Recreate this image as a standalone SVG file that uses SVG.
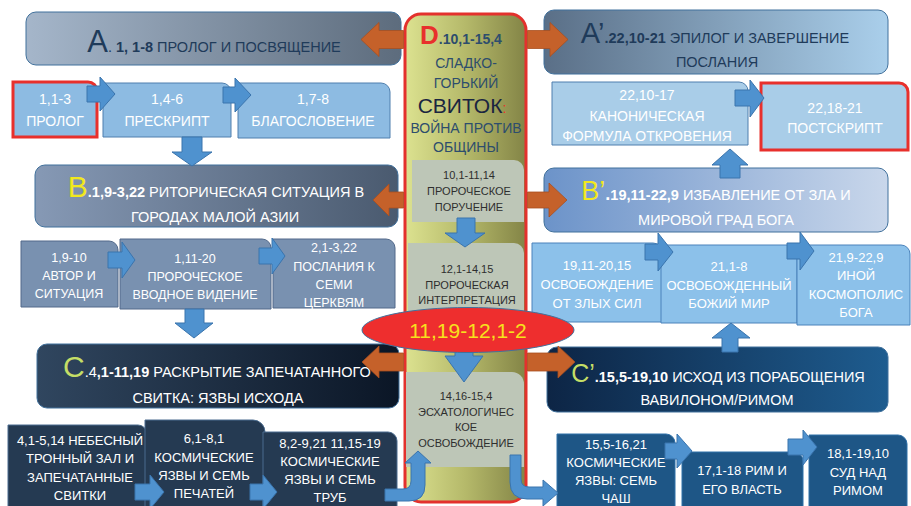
<svg xmlns="http://www.w3.org/2000/svg" width="911" height="506" viewBox="0 0 911 506">
<defs>
<linearGradient id="gA" x1="0" x2="1" y1="0" y2="0"><stop offset="0" stop-color="#a5b6ca"/><stop offset="1" stop-color="#5d6c7d"/></linearGradient>
<linearGradient id="gAp" x1="0" x2="1" y1="0" y2="0"><stop offset="0" stop-color="#5a6f87"/><stop offset="1" stop-color="#aacfeb"/></linearGradient>
<linearGradient id="gB" x1="0" x2="1" y1="0" y2="0"><stop offset="0" stop-color="#8699b5"/><stop offset="1" stop-color="#4a5a6f"/></linearGradient>
<linearGradient id="gBp" x1="0" x2="1" y1="0" y2="0"><stop offset="0" stop-color="#6c93c9"/><stop offset="1" stop-color="#c9d7eb"/></linearGradient>
<linearGradient id="gC" x1="0" x2="1" y1="0" y2="0"><stop offset="0" stop-color="#30465f"/><stop offset="1" stop-color="#0b1626"/></linearGradient>
<linearGradient id="gCp" x1="0" x2="1" y1="0" y2="0"><stop offset="0" stop-color="#0d2545"/><stop offset="1" stop-color="#1e5c8f"/></linearGradient>
<linearGradient id="gD" x1="0" x2="1" y1="0" y2="0"><stop offset="0" stop-color="#dce290"/><stop offset="0.5" stop-color="#b5b96a"/><stop offset="1" stop-color="#838446"/></linearGradient>
</defs>
<style>
text{font-family:"Liberation Sans",Arial,sans-serif;text-anchor:middle}
.hdr{stroke:#41719c;stroke-width:1}
.hd{font-size:14.5px}
.dk{fill:#1f3b5a}
.w{fill:#fff}
.b{font-weight:bold}
.rA{fill:#8dbbe2;stroke:#4f7fae;stroke-width:1}
.rAp{fill:#a9cde8;stroke:#4f7fae;stroke-width:1}
.rB{fill:#7991b0;stroke:#52698a;stroke-width:1}
.rBp{fill:#8cc1ea;stroke:#4a82bb;stroke-width:1}
.rC{fill:#253a52;stroke:#4a6b8e;stroke-width:1}
.rCp{fill:#1e5686;stroke:#2f70a8;stroke-width:1}
.red{stroke:#e8302c;stroke-width:3}
.di{fill:#bdc6b7}
.s14{font-size:14px}
.s13{font-size:13px}
.s125{font-size:12.5px}
.s11{font-size:11px;fill:#2e2e2e}
.dt{font-size:14px;fill:#2d4d6d}
.ba{fill:#4f92cf;stroke:#3a74ad;stroke-width:1}
.oa{fill:#c5612a;stroke:#a84f1f;stroke-width:0.8}
</style>

<!-- headers -->
<g id="A">
<rect class="hdr" x="26" y="12" width="375" height="53" rx="10" fill="url(#gA)"/>
<text x="214" y="52" class="hd dk"><tspan font-size="31">A</tspan>. <tspan class="b">1, 1-8</tspan> ПРОЛОГ И ПОСВЯЩЕНИЕ</text>
</g>
<g id="Ap">
<rect class="hdr" x="544" y="10" width="344" height="64" rx="10" fill="url(#gAp)"/>
<text x="715" y="43" class="hd dk"><tspan font-size="29">A’</tspan><tspan class="b">.22,10-21</tspan> ЭПИЛОГ И ЗАВЕРШЕНИЕ</text>
<text x="717" y="67" class="hd dk">ПОСЛАНИЯ</text>
</g>
<g id="B">
<rect class="hdr" x="35" y="165" width="363" height="62" rx="10" fill="url(#gB)"/>
<text x="216" y="197" class="hd w"><tspan font-size="30" fill="#f2e81e">B</tspan><tspan class="b">.1,9-3,22</tspan> РИТОРИЧЕСКАЯ СИТУАЦИЯ В</text>
<text x="215" y="222" class="hd w">ГОРОДАХ МАЛОЙ АЗИИ</text>
</g>
<g id="Bp">
<rect class="hdr" x="544" y="168" width="344" height="64" rx="10" fill="url(#gBp)"/>
<text x="716" y="200" class="hd w"><tspan font-size="27" fill="#f2e81e">B’</tspan><tspan class="b" font-size="18">.</tspan><tspan class="b">19,11-22,9</tspan> ИЗБАВЛЕНИЕ ОТ ЗЛА И</text>
<text x="716" y="225" class="hd w">МИРОВОЙ ГРАД БОГА</text>
</g>
<g id="C">
<rect class="hdr" x="37" y="344" width="362" height="64" rx="10" fill="url(#gC)"/>
<text x="217" y="377" class="hd w"><tspan font-size="30" fill="#c5de66">C</tspan>.4<tspan class="b">,1-11,19</tspan> РАСКРЫТИЕ ЗАПЕЧАТАННОГО</text>
<text x="218" y="403" class="hd w">СВИТКА: ЯЗВЫ ИСХОДА</text>
</g>
<g id="Cp">
<rect class="hdr" x="547" y="347" width="341" height="65" rx="10" fill="url(#gCp)"/>
<text x="718" y="382" class="hd w"><tspan font-size="25" fill="#c5de66">C’</tspan><tspan class="b">.15,5-19,10</tspan> ИСХОД ИЗ ПОРАБОЩЕНИЯ</text>
<text x="717" y="405" class="hd w">ВАВИЛОНОМ/РИМОМ</text>
</g>

<!-- A row -->
<g id="a1"><path class="rA red" d="M13 82 H88 A9 9 0 0 1 97 91 V137 H13 Z"/>
<text x="55" y="104" class="s14 w">1,1-3</text><text x="55" y="126" class="s14 w">ПРОЛОГ</text></g>
<g id="a2"><path class="rA" d="M103 83 H222 A9 9 0 0 1 231 92 V137 H103 Z"/>
<text x="167" y="104" class="s14 w">1,4-6</text><text x="167" y="126" class="s14 w">ПРЕСКРИПТ</text></g>
<g id="a3"><path class="rA" d="M238 83 H381 A9 9 0 0 1 390 92 V138 H238 Z"/>
<text x="313" y="104" class="s14 w">1,7-8</text><text x="313" y="126" class="s14 w">БЛАГОСЛОВЕНИЕ</text></g>

<!-- A' row -->
<g id="ap1"><path class="rAp" d="M552 82 H739 A9 9 0 0 1 748 91 V145 H552 Z"/>
<text x="647" y="100" class="s14 w">22,10-17</text><text x="647" y="121" class="s14 w">КАНОНИЧЕСКАЯ</text><text x="647" y="141" class="s14 w">ФОРМУЛА ОТКРОВЕНИЯ</text></g>
<g id="ap2"><path class="rAp red" d="M761 83 H899 A9 9 0 0 1 908 92 V150 H761 Z"/>
<text x="835" y="113" class="s14 w">22,18-21</text><text x="835" y="133" class="s14 w">ПОСТСКРИПТ</text></g>

<!-- B row -->
<g id="b1"><path class="rB" d="M21 241 H109 A9 9 0 0 1 118 250 V307 H21 Z"/>
<text x="69" y="262" class="s125 w">1,9-10</text><text x="69" y="280" class="s125 w">АВТОР И</text><text x="69" y="298" class="s125 w">СИТУАЦИЯ</text></g>
<g id="b2"><path class="rB" d="M120 239 H262 A9 9 0 0 1 271 248 V309 H120 Z"/>
<text x="195" y="263" class="s125 w">1,11-20</text><text x="195" y="281" class="s125 w">ПРОРОЧЕСКОЕ</text><text x="195" y="299" class="s125 w">ВВОДНОЕ ВИДЕНИЕ</text></g>
<g id="b3"><path class="rB" d="M273 239 H386 A9 9 0 0 1 395 248 V308 H273 Z"/>
<text x="334" y="252" class="s125 w">2,1-3,22</text><text x="334" y="271" class="s125 w">ПОСЛАНИЯ К</text><text x="334" y="289" class="s125 w">СЕМИ</text><text x="334" y="307" class="s125 w">ЦЕРКВЯМ</text></g>

<!-- B' row -->
<g id="bp1"><path class="rBp" d="M532 243 H653 A9 9 0 0 1 662 252 V322 H532 Z"/>
<text x="597" y="270" class="s13 w">19,11-20,15</text><text x="597" y="289" class="s13 w">ОСВОБОЖДЕНИЕ</text><text x="597" y="308" class="s13 w">ОТ ЗЛЫХ СИЛ</text></g>
<g id="bp2"><path class="rBp" d="M661 245 H788 A9 9 0 0 1 797 254 V323 H661 Z"/>
<text x="729" y="271" class="s13 w">21,1-8</text><text x="729" y="290" class="s13 w">ОСВОБОЖДЕННЫЙ</text><text x="729" y="308" class="s13 w">БОЖИЙ МИР</text></g>
<g id="bp3"><path class="rBp" d="M797 245 H901 A9 9 0 0 1 910 254 V325 H797 Z"/>
<text x="856" y="262" class="s13 w">21,9-22,9</text><text x="856" y="280" class="s13 w">ИНОЙ</text><text x="856" y="299" class="s13 w">КОСМОПОЛИС</text><text x="856" y="317" class="s13 w">БОГА</text></g>

<!-- C row -->
<g id="c1"><path class="rC" d="M8 425 H138 A9 9 0 0 1 147 434 V515 H8 Z"/>
<text x="80" y="445" class="s13 w">4,1-5,14 НЕБЕСНЫЙ</text><text x="80" y="463" class="s13 w">ТРОННЫЙ ЗАЛ И</text><text x="80" y="482" class="s13 w">ЗАПЕЧАТАННЫЕ</text><text x="80" y="500" class="s13 w">СВИТКИ</text></g>
<g id="c2"><path class="rC" d="M145 420 H253 A12 12 0 0 1 265 432 V515 H145 Z"/>
<text x="204" y="443" class="s13 w">6,1-8,1</text><text x="204" y="462" class="s13 w">КОСМИЧЕСКИЕ</text><text x="204" y="480" class="s13 w">ЯЗВЫ И СЕМЬ</text><text x="204" y="498" class="s13 w">ПЕЧАТЕЙ</text></g>
<g id="c3"><path class="rC" d="M263 432 H388 A9 9 0 0 1 397 441 V515 H263 Z"/>
<text x="330" y="448" class="s13 w">8,2-9,21 11,15-19</text><text x="330" y="466" class="s13 w">КОСМИЧЕСКИЕ</text><text x="330" y="484" class="s13 w">ЯЗВЫ И СЕМЬ</text><text x="330" y="502" class="s13 w">ТРУБ</text></g>

<!-- C' row -->
<g id="cp1"><path class="rCp" d="M557 434 H666 A9 9 0 0 1 675 443 V515 H557 Z"/>
<text x="616" y="449" class="s13 w">15,5-16,21</text><text x="616" y="467" class="s13 w">КОСМИЧЕСКИЕ</text><text x="616" y="485" class="s13 w">ЯЗВЫ: СЕМЬ</text><text x="616" y="503" class="s13 w">ЧАШ</text></g>
<g id="cp2"><path class="rCp" d="M682 452 H794 A9 9 0 0 1 803 461 V515 H682 Z"/>
<text x="742" y="475" class="s13 w">17,1-18 РИМ И</text><text x="742" y="494" class="s13 w">ЕГО ВЛАСТЬ</text></g>
<g id="cp3"><path class="rCp" d="M809 435 H898 A9 9 0 0 1 907 444 V515 H809 Z"/>
<text x="858" y="458" class="s13 w">18,1-19,10</text><text x="858" y="477" class="s13 w">СУД НАД</text><text x="858" y="495" class="s13 w">РИМОМ</text></g>

<!-- D column -->
<g id="D">
<rect x="405" y="14" width="121" height="488" rx="16" fill="url(#gD)" stroke="#e3312d" stroke-width="3"/>
<text x="461" y="44" font-size="14" font-weight="bold" fill="#2d4d6d"><tspan font-size="26" fill="#e8302c">D</tspan>.10,1-15,4</text>
<text x="466" y="68" class="dt">СЛАДКО-</text>
<text x="466" y="88" class="dt">ГОРЬКИЙ</text>
<text x="462" y="113" font-size="21" fill="#1a2540">СВИТОК<tspan fill="#e8302c" font-size="14">:</tspan></text>
<text x="466" y="133" class="dt">ВОЙНА ПРОТИВ</text>
<text x="466" y="152" class="dt">ОБЩИНЫ</text>
</g>
<g id="d1"><path class="di" d="M412 160 H514 A10 10 0 0 1 524 170 V222 H412 Z"/>
<text x="469" y="179" class="s11">10,1-11,14</text><text x="469" y="195" class="s11">ПРОРОЧЕСКОЕ</text><text x="469" y="211" class="s11">ПОРУЧЕНИЕ</text></g>
<g id="d2"><path class="di" d="M408 243 H514 A10 10 0 0 1 524 253 V313 H408 Z"/>
<text x="467" y="273" class="s11">12,1-14,15</text><text x="467" y="289" class="s11">ПРОРОЧЕСКАЯ</text><text x="467" y="304" class="s11">ИНТЕРПРЕТАЦИЯ</text></g>
<g id="d3"><path class="di" d="M406 372 H512 A12 12 0 0 1 524 384 V467 H406 Z"/>
<text x="466" y="400" class="s11">14,16-15,4</text><text x="466" y="416" class="s11">ЭСХАТОЛОГИЧЕС</text><text x="466" y="431" class="s11">КОЕ</text><text x="466" y="447" class="s11">ОСВОБОЖДЕНИЕ</text></g>

<!-- connectors -->
<g id="connectors">
<polygon class="ba" points="87,86 100,86 100,77 115,94 100,111 100,102 87,102"/>
<polygon class="ba" points="223,87 235,87 235,78 251,95 235,112 235,103 223,103"/>
<polygon class="ba" points="182,137 202,137 202,152 212,152 192,166 172,152 182,152"/>
<polygon class="ba" points="108,252 122,252 122,242 135,260 122,278 122,268 108,268"/>
<polygon class="ba" points="259,248 272,248 272,238 285,256 272,274 272,264 259,264"/>
<polygon class="ba" points="185,309 204,309 204,323 213,323 194,338 175,323 185,323"/>
<polygon class="ba" points="135,484 150,484 150,475 164,492 150,509 150,500 135,500"/>
<polygon class="ba" points="250,484 263,484 263,475 277,492 263,509 263,500 250,500"/>
<polygon class="ba" points="735,90 750,90 750,80 764,98 750,117 750,106 735,106"/>
<polygon class="ba" points="720,178 740,178 740,165 748,165 730,149 712,165 720,165"/>
<polygon class="ba" points="645,244 658,244 658,233 673,252 658,271 658,260 645,260"/>
<polygon class="ba" points="787,243 800,243 800,232 814,251 800,270 800,259 787,259"/>
<polygon class="ba" points="722,352 738,352 738,338 750,338 731,323 712,338 722,338"/>
<polygon class="ba" points="665,443 677,443 677,434 692,451 677,468 677,459 665,459"/>
<polygon class="ba" points="788,439 803,439 803,430 817,447 803,465 803,455 788,455"/>
<polygon class="ba" points="457,218 475,218 475,233 485,233 465,247 445,233 457,233"/>
<polygon class="ba" points="455,345 473,345 473,356 483,356 464,382 445,356 455,356"/>
<path class="ba" d="M385 489 L403 489 Q411 489 411 481 L411 463 L405 463 L418 451 L431 463 L425 463 L425 485 Q425 501 409 501 L385 501 Z"/>
<path class="ba" d="M510 455 L521 455 L521 479 Q521 487 529 487 L543 487 L543 480 L558 493 L543 506 L543 499 L527 499 Q510 499 510 482 Z"/>
<polygon class="oa" points="361,39.5 379,22.5 379,30.5 403.5,30.5 403.5,48.5 379,48.5 379,56.5"/>
<polygon class="oa" points="527.5,30.5 550,30.5 550,22.5 568,39.5 550,56.5 550,48.5 527.5,48.5"/>
<polygon class="oa" points="373,200 389,184 389,192 403.5,192 403.5,208 389,208 389,216"/>
<polygon class="oa" points="527.5,192 549,192 549,183 567,200 549,217 549,208 527.5,208"/>
<polygon class="oa" points="362,362 379,346 379,353 403.5,353 403.5,371 379,371 379,378"/>
<polygon class="oa" points="527.5,353 558,353 558,346 575,362 558,378 558,371 527.5,371"/>
</g>

<g id="E">
<ellipse cx="468" cy="330" rx="106" ry="22.5" fill="#ee2e2e" stroke="#41719c" stroke-width="1"/>
<text x="468" y="338" font-size="21" fill="#f7e11d">11,19-12,1-2</text>
</g>
</svg>
